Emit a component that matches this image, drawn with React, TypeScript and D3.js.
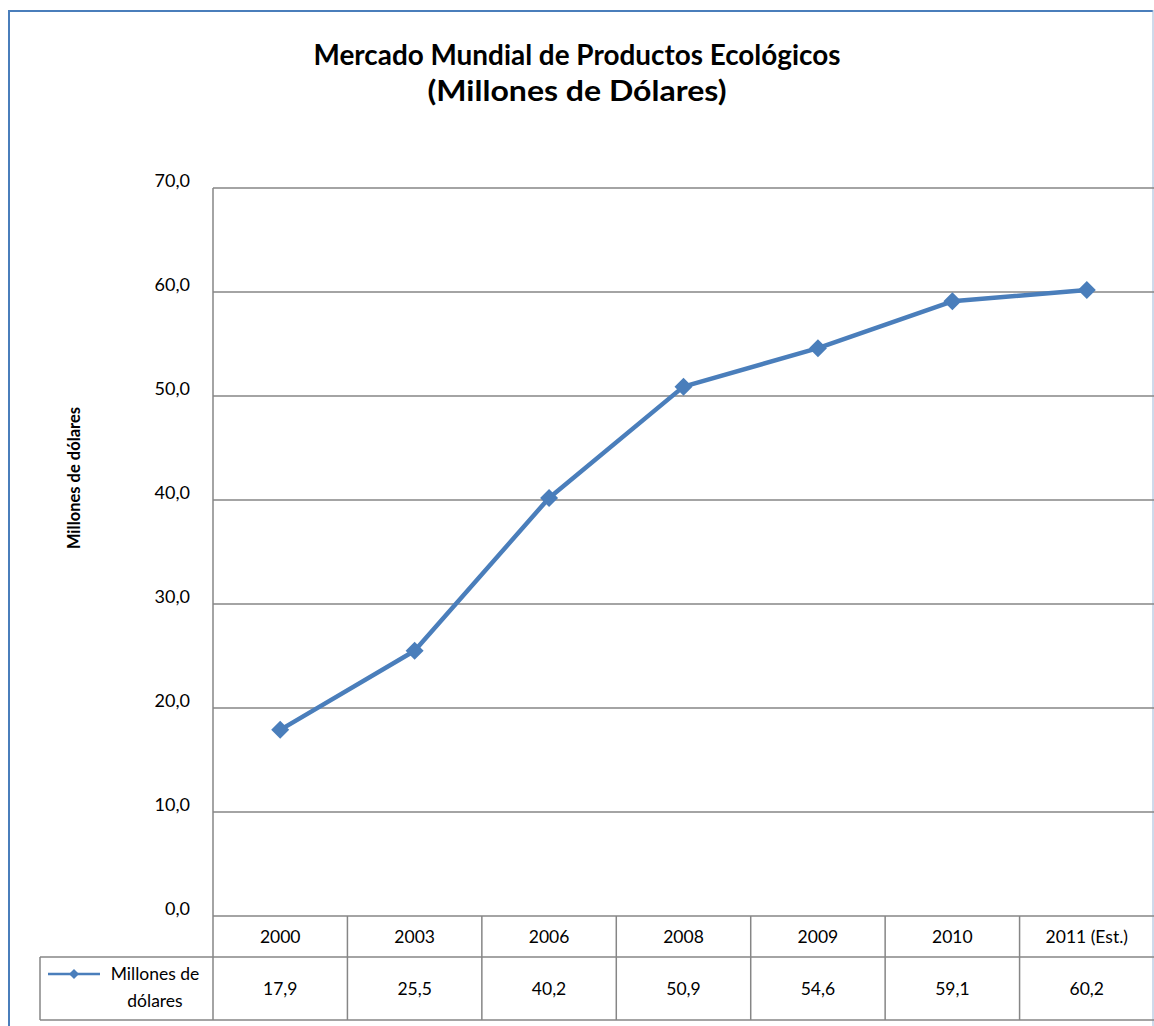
import React from "react";
import * as d3 from "d3";

// Market values by year (millions of dollars)
const categories = ["2000", "2003", "2006", "2008", "2009", "2010", "2011 (Est.)"];
const values = [17.9, 25.5, 40.2, 50.9, 54.6, 59.1, 60.2];
const yTicks = [0, 10, 20, 30, 40, 50, 60, 70];
const seriesName = ["Millones de", "dólares"];
const titleLines = ["Mercado Mundial de Productos Ecológicos", "(Millones de Dólares)"];
const yAxisTitle = "Millones de dólares";

const W = 1154;
const H = 1026;
const FONT = "Lato, 'Open Sans', sans-serif";
const BLUE = "#4A7EBB";
const GRID = "#868686";

const esLocale = d3.formatLocale({ decimal: ",", thousands: ".", grouping: [3], currency: ["", "€"] });
const fmt = esLocale.format(".1f");

export default function App() {
  const plotLeft = 213;
  const plotRight = 1154;
  const plotTop = 188;
  const plotBottom = 916;
  const headerBottom = 957;
  const tableBottom = 1020;
  const legendLeft = 40;

  const x = d3.scaleBand<string>().domain(categories).range([plotLeft, plotRight]).padding(0);
  const y = d3.scaleLinear().domain([0, 70]).range([plotBottom, plotTop]);
  const cx = (c: string) => (x(c) as number) + x.bandwidth() / 2;

  const line = d3
    .line<number>()
    .x((_, i) => cx(categories[i]))
    .y((d) => y(d));

  const diamond = (px: number, py: number, r: number) =>
    `M${px},${py - r}L${px + r},${py}L${px},${py + r}L${px - r},${py}Z`;

  const colEdges = categories.map((c) => x(c) as number).concat([plotRight]);

  return (
    <div style={{ position: "absolute", left: 0, top: 0 }}>
      <svg width={W} height={H} style={{ display: "block", background: "#fff" }}>
        <rect x={0} y={0} width={W} height={H} fill="#fff" />

        {/* chart frame */}
        <line x1={9} y1={10} x2={9} y2={H} stroke={BLUE} strokeWidth={2} />
        <line x1={8} y1={11} x2={1153} y2={11} stroke={BLUE} strokeWidth={2} />
        <line x1={1153} y1={10} x2={1153} y2={H} stroke="#9DB5D6" strokeWidth={1} />

        {/* title */}
        <text x={577} y={65} textAnchor="middle" fontFamily={FONT} fontWeight={700} fontSize={28} fill="#000"
          textLength={527} lengthAdjust="spacingAndGlyphs">
          {titleLines[0]}
        </text>
        <text x={577} y={101} textAnchor="middle" fontFamily={FONT} fontWeight={700} fontSize={28} fill="#000"
          textLength={299} lengthAdjust="spacingAndGlyphs">
          {titleLines[1]}
        </text>

        {/* gridlines */}
        {yTicks.slice(1).map((t) => (
          <line key={t} x1={plotLeft} x2={plotRight} y1={y(t)} y2={y(t)} stroke={GRID} strokeWidth={1.5} />
        ))}

        {/* y tick labels */}
        {yTicks.map((t) => (
          <text key={t} x={190} y={y(t)} dy="-0.08em" textAnchor="end" fontFamily={FONT} fontSize={18} fill="#000">
            {fmt(t)}
          </text>
        ))}

        {/* y axis title */}
        <text transform={`translate(80,478) rotate(-90)`} textAnchor="middle" fontFamily={FONT} fontWeight={700}
          fontSize={16.5} fill="#000">
          {yAxisTitle}
        </text>

        {/* data table */}
        <g stroke={GRID} strokeWidth={1.5} fill="none">
          <line x1={plotLeft} x2={plotLeft} y1={plotTop} y2={tableBottom} />
          <line x1={plotLeft} x2={plotRight} y1={plotBottom} y2={plotBottom} />
          <line x1={legendLeft} x2={plotRight} y1={headerBottom} y2={headerBottom} />
          <line x1={legendLeft} x2={plotRight} y1={tableBottom} y2={tableBottom} />
          <line x1={legendLeft} x2={legendLeft} y1={headerBottom} y2={tableBottom} />
          {colEdges.slice(1, -1).map((e, i) => (
            <line key={i} x1={e} x2={e} y1={plotBottom} y2={tableBottom} />
          ))}
        </g>
        {categories.map((c) => (
          <text key={c} x={cx(c)} y={937} dy="0.35em" textAnchor="middle" fontFamily={FONT} fontSize={17.5} fill="#000">
            {c}
          </text>
        ))}
        {values.map((v, i) => (
          <text key={i} x={cx(categories[i])} y={989} dy="0.35em" textAnchor="middle" fontFamily={FONT} fontSize={17.5}
            fill="#000">
            {fmt(v)}
          </text>
        ))}

        {/* legend key in table */}
        <line x1={48} x2={100} y1={974} y2={974} stroke={BLUE} strokeWidth={2.5} />
        <path d={diamond(74, 974, 5)} fill={BLUE} />
        <text x={155} y={974} dy="0.35em" textAnchor="middle" fontFamily={FONT} fontSize={17.5} fill="#000">
          {seriesName[0]}
        </text>
        <text x={155} y={1001} dy="0.35em" textAnchor="middle" fontFamily={FONT} fontSize={17.5} fill="#000">
          {seriesName[1]}
        </text>

        {/* series */}
        <path d={line(values) as string} fill="none" stroke={BLUE} strokeWidth={4.5} strokeLinejoin="round" />
        {values.map((v, i) => (
          <path key={i} d={diamond(cx(categories[i]), y(v), 9)} fill={BLUE} />
        ))}
      </svg>
    </div>
  );
}
